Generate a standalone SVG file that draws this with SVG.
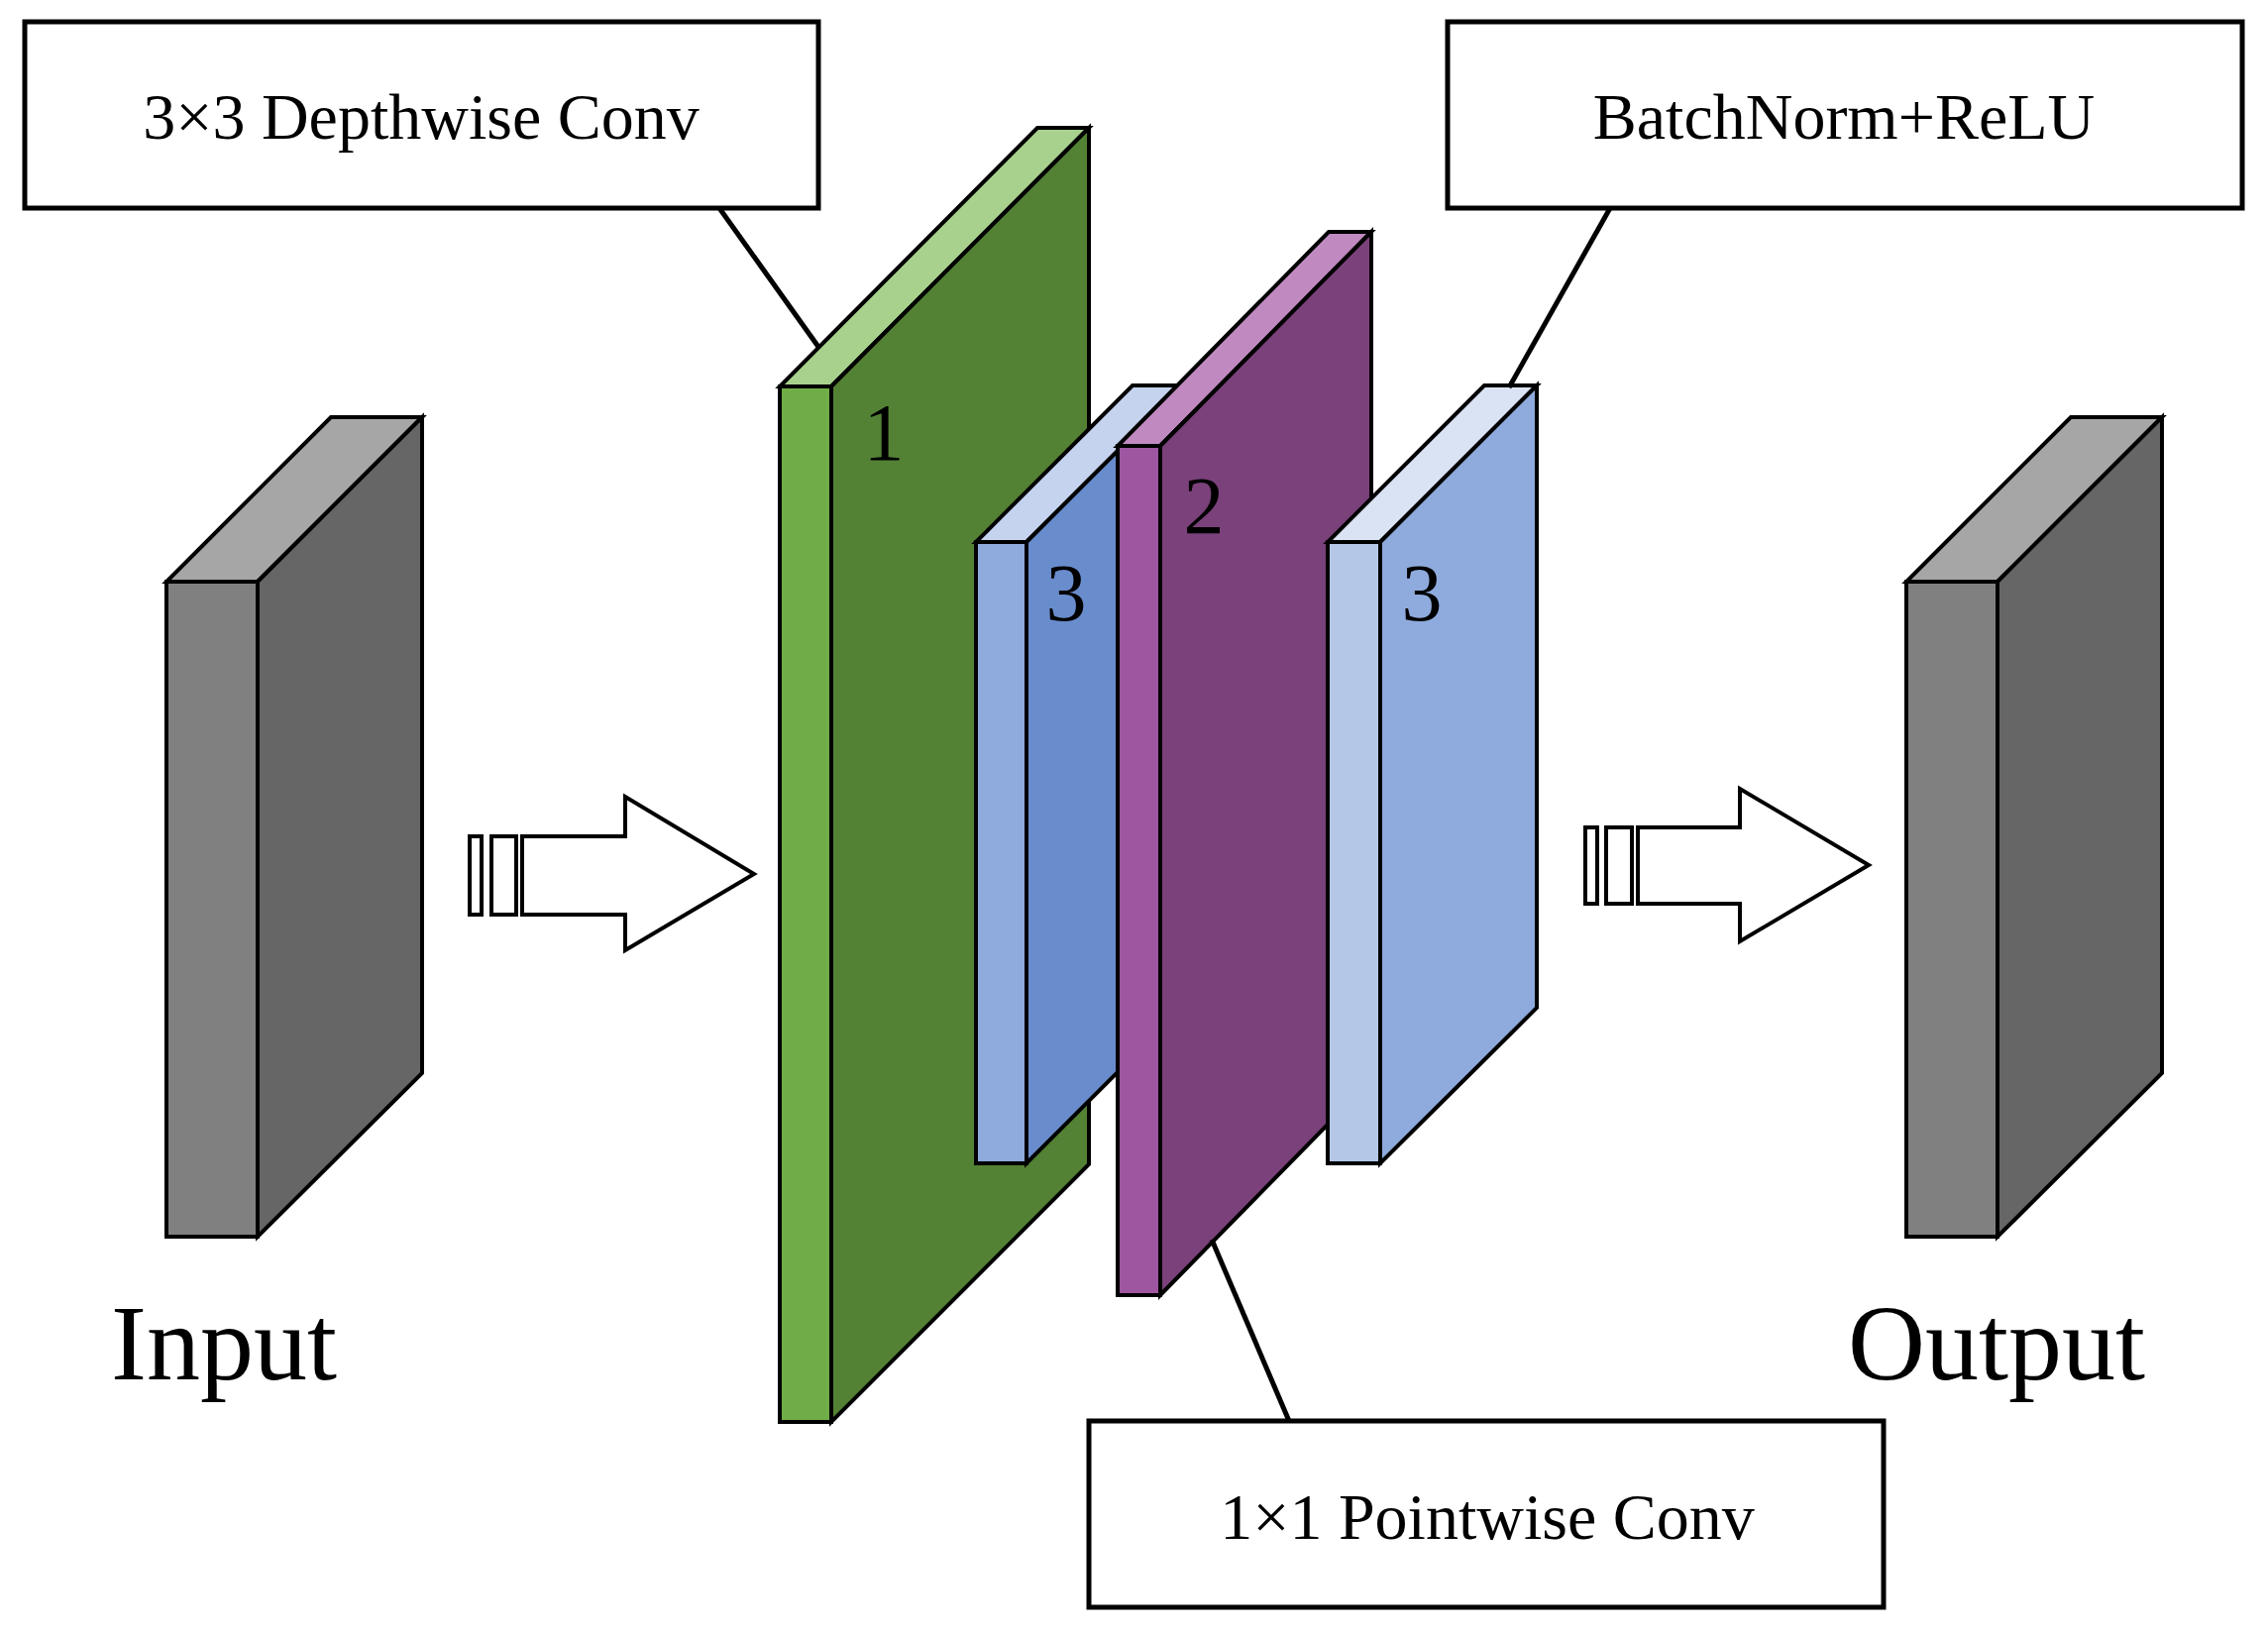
<svg xmlns="http://www.w3.org/2000/svg" width="2289" height="1650" viewBox="0 0 2289 1650">
<style>
.s{stroke:#000;stroke-width:4;stroke-linejoin:miter}
.box{fill:#fff;stroke:#000;stroke-width:5}
.t{font-family:"Liberation Serif",serif;fill:#000}
.lbl{font-size:66px;text-anchor:middle}
.num{font-size:82px;text-anchor:middle}
.io{font-size:108px;text-anchor:middle}
</style>
<rect width="2289" height="1650" fill="#fff"/>
<g id="input">
<polygon class="s" fill="#a6a6a6" points="168,587 260,587 426,421 334,421"/>
<polygon class="s" fill="#666" points="260,587 426,421 426,1083 260,1248"/>
<rect class="s" fill="#808080" x="168" y="587" width="92" height="661"/>
<text class="t io" x="226" y="1392">Input</text>
</g>
<g id="output">
<polygon class="s" fill="#a6a6a6" points="1924,587 2016,587 2182,421 2090,421"/>
<polygon class="s" fill="#666" points="2016,587 2182,421 2182,1083 2016,1248"/>
<rect class="s" fill="#808080" x="1924" y="587" width="92" height="661"/>
<text class="t io" x="2015" y="1392">Output</text>
</g>
<g id="green">
<polygon class="s" fill="#a9d18e" points="787,390 839,390 1099,129 1047,129"/>
<polygon class="s" fill="#548235" points="839,390 1099,129 1099,1175 839,1435"/>
<rect class="s" fill="#70ad47" x="787" y="390" width="52" height="1045"/>
<text class="t num" x="892" y="464">1</text>
</g>
<g id="blue1">
<polygon class="s" fill="#c5d3ee" points="985,547 1036,547 1194,389 1143,389"/>
<polygon class="s" fill="#698ccc" points="1036,547 1194,389 1194,1016 1036,1174"/>
<rect class="s" fill="#8faadc" x="985" y="547" width="51" height="627"/>
<text class="t num" x="1076" y="626">3</text>
</g>
<g id="purple">
<polygon class="s" fill="#c08ac0" points="1128,450 1171,450 1384,234 1341,234"/>
<polygon class="s" fill="#7a417a" points="1171,450 1384,234 1384,1090 1171,1307"/>
<rect class="s" fill="#9e56a0" x="1128" y="450" width="43" height="857"/>
<text class="t num" x="1215" y="538">2</text>
</g>
<g id="blue2">
<polygon class="s" fill="#dae3f3" points="1340,547 1393,547 1551,389 1498,389"/>
<polygon class="s" fill="#8faadc" points="1393,547 1551,389 1551,1017 1393,1174"/>
<rect class="s" fill="#b4c7e7" x="1340" y="547" width="53" height="627"/>
<text class="t num" x="1435" y="626">3</text>
</g>
<g id="box-depthwise">
<rect class="box" x="25" y="22" width="801" height="188"/>
<text class="t lbl" x="425" y="140">3×3 Depthwise Conv</text>
</g>
<g id="box-bn">
<rect class="box" x="1461" y="22" width="802" height="188"/>
<text class="t lbl" x="1861" y="140">BatchNorm+ReLU</text>
</g>
<g id="box-pointwise">
<rect class="box" x="1099" y="1434" width="802" height="188"/>
<text class="t lbl" x="1501" y="1553">1×1 Pointwise Conv</text>
</g>
<g id="connectors" fill="none" stroke="#000" stroke-width="5">
<line x1="726" y1="210" x2="826" y2="350"/>
<line x1="1625" y1="210" x2="1523" y2="391"/>
<line x1="1301" y1="1434" x2="1223" y2="1251"/>
<g fill="#fff" stroke-width="4">
<rect x="474" y="844" width="12" height="79"/>
<rect x="496" y="844" width="25" height="79"/>
<polygon points="527,844 631,844 631,804 761,882 631,959 631,923 527,923"/>
<rect x="1600" y="835" width="12" height="77"/>
<rect x="1621" y="835" width="26" height="77"/>
<polygon points="1653,835 1756,835 1756,796 1886,873 1756,950 1756,912 1653,912"/>
</g>
</g>
</svg>
